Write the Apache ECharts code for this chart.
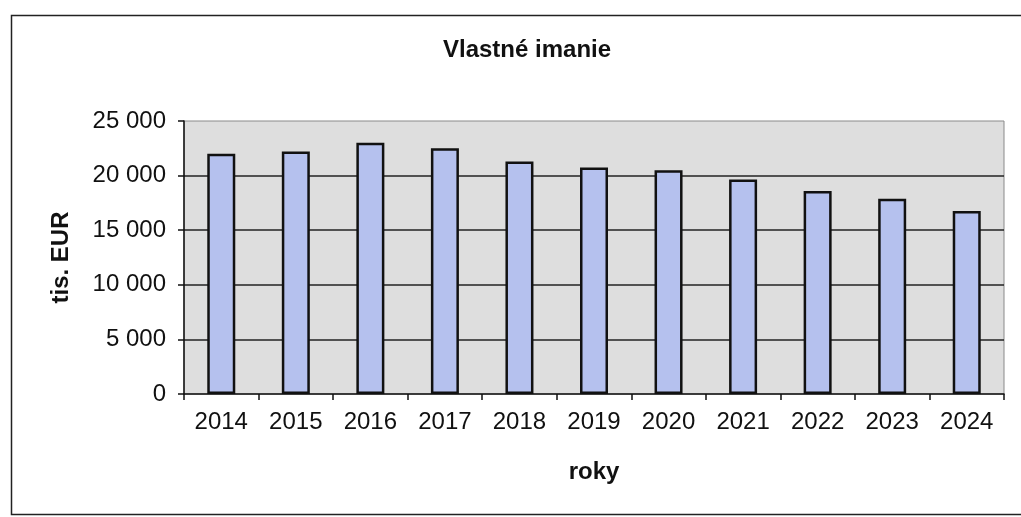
<!DOCTYPE html>
<html>
<head>
<meta charset="utf-8">
<title>Vlastné imanie</title>
<script src="https://cdn.jsdelivr.net/npm/echarts@6/dist/echarts.min.js"></script>
<style>
  html, body { margin: 0; padding: 0; background: #ffffff; }
  #chart { width: 1021px; height: 517px; }
</style>
</head>
<body>
<div id="chart"></div>
<script>
// Equity (thousands of EUR) by year
const years = ['2014', '2015', '2016', '2017', '2018', '2019', '2020', '2021', '2022', '2023', '2024'];
const equity = [22000, 22200, 23000, 22500, 21300, 20750, 20500, 19650, 18590, 17870, 16750];

// Value axis range and step
const yMin = 0;
const yMax = 25000;
const yStep = 5000;

const chartTitle = 'Vlastné imanie';
const yName = 'tis. EUR';
const xName = 'roky';

const FONT = "'Liberation Sans', Arial, sans-serif";
const FS = 24;

// "25000" -> "25 000"
function groupThousands(v) {
  return String(v).replace(/\B(?=(\d{3})+(?!\d))/g, ' ');
}

const chart = echarts.init(document.getElementById('chart'), null, { renderer: 'canvas' });

chart.setOption({
  backgroundColor: '#ffffff',
  animation: false,
  textStyle: { fontFamily: FONT, color: '#111' },
  title: {
    text: chartTitle,
    left: 443,
    top: 38,
    padding: 0,
    textStyle: { fontFamily: FONT, fontSize: FS, fontWeight: 'bold', color: '#111' }
  },
  graphic: [{
    type: 'rect',
    left: 9,
    top: 13,
    silent: true,
    z: -10,
    shape: { width: 1040, height: 499 },
    style: { fill: 'none', stroke: '#222', lineWidth: 1.5 }
  }],
  grid: {
    left: 184,
    right: 17,
    top: 121,
    bottom: 123,
    show: true,
    backgroundColor: '#dedede',
    borderColor: '#8a8a8a',
    borderWidth: 1
  },
  xAxis: {
    type: 'category',
    data: years,
    name: xName,
    nameLocation: 'middle',
    nameGap: 66,
    nameTextStyle: { fontFamily: FONT, fontSize: FS, fontWeight: 'bold', color: '#111' },
    axisLine: { show: true, lineStyle: { color: '#111', width: 1.5 } },
    axisTick: { show: true, inside: false, length: 6, alignWithLabel: false, lineStyle: { color: '#111', width: 1.5 } },
    axisLabel: { fontFamily: FONT, fontSize: FS, color: '#111', margin: 16, interval: 0 },
    splitLine: { show: false }
  },
  yAxis: {
    type: 'value',
    min: yMin,
    max: yMax,
    interval: yStep,
    name: yName,
    nameLocation: 'middle',
    nameGap: 111,
    nameRotate: 90,
    nameTextStyle: { fontFamily: FONT, fontSize: FS, fontWeight: 'bold', color: '#111' },
    axisLine: { show: true, lineStyle: { color: '#111', width: 1.5 } },
    axisTick: { show: true, inside: false, length: 6, lineStyle: { color: '#111', width: 1.5 } },
    axisLabel: {
      fontFamily: FONT, fontSize: FS, color: '#111', margin: 18,
      formatter: groupThousands
    },
    splitLine: {
      show: true,
      showMinLine: false,
      showMaxLine: false,
      lineStyle: { color: '#222', width: 1.5 }
    }
  },
  series: [{
    type: 'bar',
    data: equity,
    barWidth: 28,
    itemStyle: { color: '#b5c1ee', borderColor: '#111', borderWidth: 2.5 },
    emphasis: { disabled: true }
  }]
});
</script>
</body>
</html>
